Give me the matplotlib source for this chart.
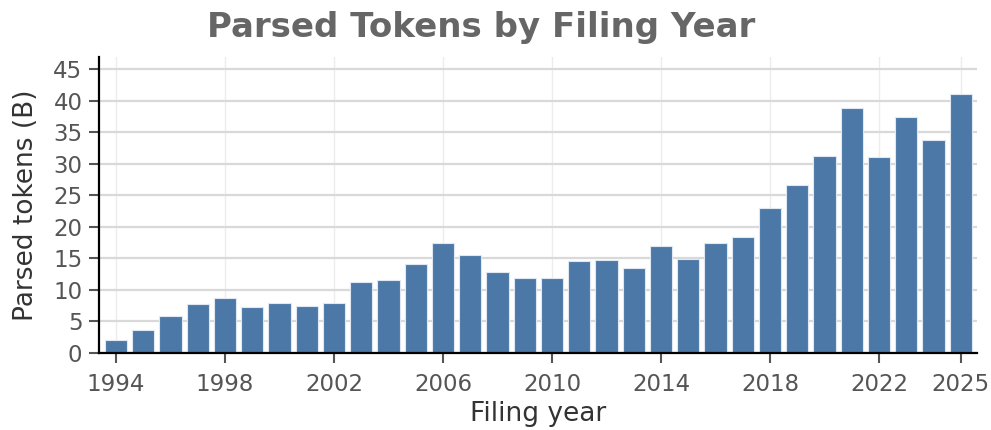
import matplotlib
matplotlib.use("Agg")
import matplotlib.pyplot as plt

years = list(range(1994, 2026))
tokens_b = [2.0, 3.6, 5.8, 7.65, 8.66, 7.28, 7.91, 7.39, 7.8, 11.2, 11.47, 14.1,
            17.47, 15.56, 12.74, 11.85, 11.85, 14.5, 14.65, 13.38, 16.88, 14.8,
            17.47, 18.3, 22.93, 26.6, 31.2, 38.8, 31.1, 37.4, 33.75, 41.08]
xticks = [1994, 1998, 2002, 2006, 2010, 2014, 2018, 2022, 2025]
yticks = [0, 5, 10, 15, 20, 25, 30, 35, 40, 45]

fig = plt.figure(figsize=(9.91, 4.30), dpi=100)
ax = fig.add_axes([0.1, 0.18, 0.886, 0.687])

ax.bar(years, tokens_b, width=0.82, color="#4c78a8", edgecolor="#dfe8f2",
       linewidth=0.8, zorder=3)

ax.set_xlim(1993.38, 2025.6)
ax.set_ylim(0, 46.9)
ax.set_xticks(xticks)
ax.set_yticks(yticks)

ax.grid(axis="y", color="#d9d9d9", linewidth=1.6, zorder=0)
ax.grid(axis="x", color="#ececec", linewidth=1.0, zorder=0)
ax.set_axisbelow(True)

for s in ["top", "right"]:
    ax.spines[s].set_visible(False)
for s in ["left", "bottom"]:
    ax.spines[s].set_color("black")
    ax.spines[s].set_linewidth(1.6)
    ax.spines[s].set_zorder(4)

ax.tick_params(axis="both", labelsize=16.5, colors="#555555", length=7, width=1.5,
               labelcolor="#555555")
ax.tick_params(axis="x", pad=8)
ax.tick_params(axis="y", pad=5)

ax.set_xlabel("Filing year", fontsize=19, color="#333333", labelpad=3)
ax.set_ylabel("Parsed tokens (B)", fontsize=19, color="#333333", labelpad=10)
fig.suptitle("Parsed Tokens by Filing Year", fontsize=24.5, fontweight="bold",
             color="#666666", x=0.485, y=0.975)

fig.savefig("out.png", dpi=100)
